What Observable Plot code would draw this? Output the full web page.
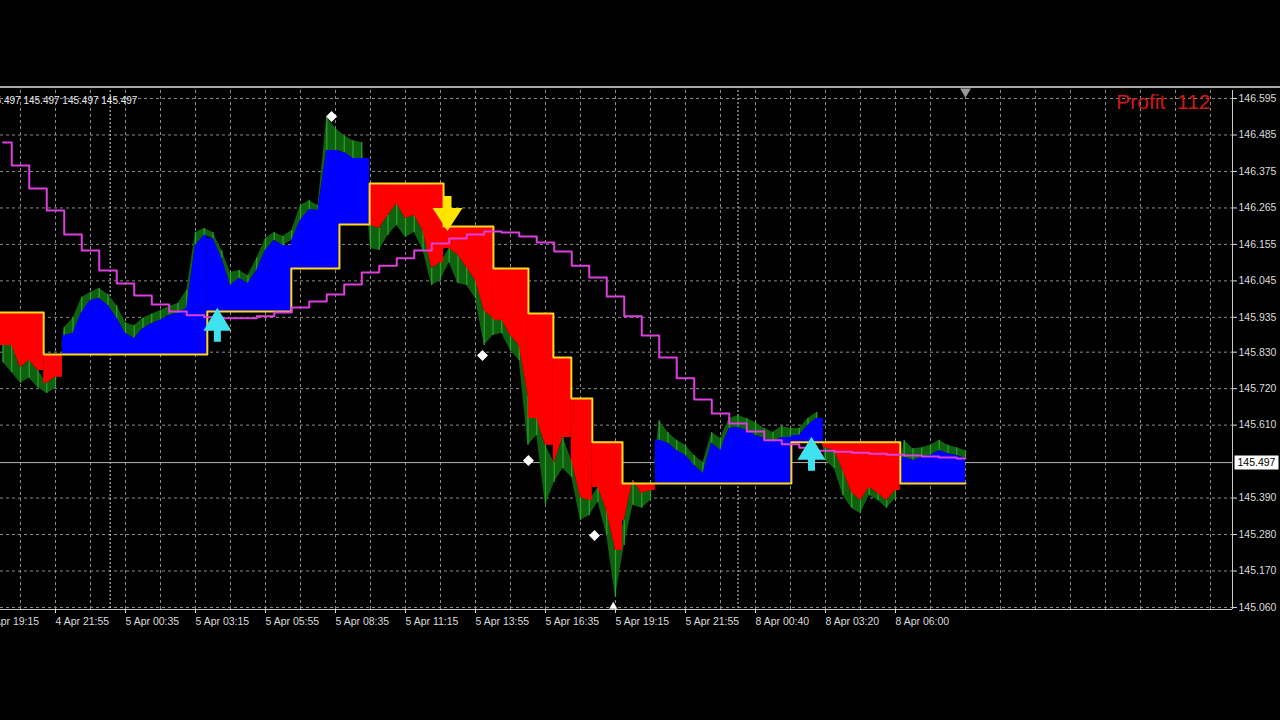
<!DOCTYPE html>
<html><head><meta charset="utf-8">
<script src="https://cdn.jsdelivr.net/npm/d3@7"></script>
<script src="https://cdn.jsdelivr.net/npm/@observablehq/plot@0.6"></script>
<style>
html,body{margin:0;padding:0;background:#000;width:1280px;height:720px;overflow:hidden;}
#wrap{position:relative;width:1280px;height:720px;background:#000;}
#topline{position:absolute;left:0;top:86px;width:1280px;height:2px;background:#a8a8a8;}
</style></head><body><div id="wrap"><div id="topline"></div></div>
<script>
// ---------- data ----------
const priceTicks = [146.595,146.485,146.375,146.265,146.155,146.045,145.935,145.830,145.720,145.610,145.390,145.280,145.170,145.060];
const bidPrice = 145.497;
const timeTicks = [-160,0,160,320,480,640,800,960,1120,1280,1440,1600,1760,1920];
const timeLabels = ["4 Apr 19:15","4 Apr 21:55","5 Apr 00:35","5 Apr 03:15","5 Apr 05:55","5 Apr 08:35","5 Apr 11:15","5 Apr 13:55","5 Apr 16:35","5 Apr 19:15","5 Apr 21:55","8 Apr 00:40","8 Apr 03:20","8 Apr 06:00"];
const daySeparators = [125, 1560];
const sampleStart = -120, sampleStep = 20;
const closePrice = [
145.850,145.850,145.784,145.805,145.775,145.736,145.754,145.880,145.886,145.950,
145.986,145.992,145.971,145.932,145.886,145.871,145.901,145.916,145.926,145.941,
145.947,145.962,146.152,146.182,146.173,146.113,146.031,146.052,146.037,146.076,
146.137,146.167,146.152,146.167,146.227,146.260,146.257,146.438,146.438,146.432,
146.414,146.414,146.212,146.203,146.242,146.278,146.233,146.242,146.197,146.082,
146.100,146.143,146.122,146.085,146.046,145.956,145.932,145.926,145.880,145.850,
145.699,145.630,145.549,145.497,145.573,145.503,145.392,145.383,145.422,145.352,
145.232,145.322,145.443,145.404,145.413,145.564,145.555,145.533,145.518,145.488,
145.464,145.555,145.533,145.600,145.603,145.594,145.579,145.570,145.558,145.573,
145.573,145.579,145.609,145.630,145.542,145.533,145.473,145.407,145.383,145.422,
145.404,145.383,145.413,145.512,145.503,145.512,145.518,145.533,145.524,145.518,
145.509];
const wickPrice = [
145.799,145.769,145.736,145.751,145.723,145.705,145.720,145.904,145.932,145.995,
146.010,146.022,146.004,145.971,145.919,145.910,145.932,145.944,145.956,145.968,
145.977,146.016,146.191,146.203,146.191,146.137,146.070,146.076,146.061,146.113,
146.173,146.191,146.179,146.197,146.272,146.287,146.272,146.538,146.505,146.483,
146.468,146.462,146.143,146.137,146.182,146.212,146.176,146.191,146.137,146.031,
146.046,146.100,146.037,146.031,145.992,145.850,145.880,145.886,145.835,145.805,
145.549,145.579,145.368,145.437,145.479,145.452,145.322,145.337,145.377,145.277,
145.090,145.247,145.368,145.359,145.383,145.624,145.588,145.564,145.549,145.518,
145.497,145.588,145.570,145.630,145.639,145.630,145.618,145.600,145.588,145.606,
145.600,145.600,145.630,145.648,145.503,145.479,145.398,145.359,145.343,145.398,
145.383,145.359,145.389,145.564,145.539,145.542,145.549,145.564,145.549,145.542,
145.533];
const maStart = -120, maStep = 40;
const maPrice = [
146.462,146.393,146.324,146.257,146.185,146.137,146.076,146.037,146.001,145.974,
145.953,145.941,145.935,145.932,145.932,145.938,145.950,145.965,145.983,146.004,
146.034,146.070,146.091,146.113,146.137,146.158,146.173,146.185,146.194,146.191,
146.179,146.161,146.134,146.091,146.055,145.998,145.938,145.880,145.814,145.751,
145.687,145.645,145.615,145.591,145.564,145.552,145.542,145.533,145.530,145.527,
145.524,145.521,145.518,145.515,145.512,145.509];
const segStart = [-130,-27,16,347,539,649,718,887,1001,1081,1138,1179,1227,1296,1371,1682,1755,1931];
const segLevel = [145.950,145.823,145.823,145.953,146.082,146.215,146.339,146.209,146.082,145.947,145.814,145.690,145.558,145.434,145.434,145.558,145.558,145.434];
const segTrend = ["down","down","up","up","up","up","down","down","down","down","down","down","down","down","up","up","down","up"];
const diamondT = [631, 976, 1081, 1232];
const diamondP = [146.541, 145.820, 145.503, 145.277];
const upArrowT = [370, 1728];
const upArrowP = [145.913, 145.524];
const downArrowT = [896];
const downArrowP = [146.248];
const profitText = "Profit  112";
const ohlcText = "145.497 145.497 145.497 145.497";

// ---------- build tables ----------
const xMin = -125.71, xMax = 2690.29;
const samples = closePrice.map((c, i) => ({t: sampleStart + i * sampleStep, close: c, wick: wickPrice[i]}));
const tEnd = samples[samples.length - 1].t;
const fillRows = [];
segStart.forEach((s0, s) => {
  const last = s === segStart.length - 1;
  const s1 = last ? tEnd : segStart[s + 1];
  const inside = samples.filter(d => (d.t >= s0 && d.t < s1) || (last && d.t === tEnd));
  if (!inside.length) return;
  const row = (t, c) => ({t, close: c, level: segLevel[s], trend: segTrend[s], seg: s});
  fillRows.push(row(s0, inside[0].close));
  inside.forEach(d => fillRows.push(row(d.t, d.close)));
  if (s1 > inside[inside.length - 1].t) fillRows.push(row(s1, inside[inside.length - 1].close));
});
const levelRows = segStart.map((t, s) => ({t, level: segLevel[s]}));
levelRows.push({t: tEnd, level: segLevel[segLevel.length - 1]});
const maRows = maPrice.map((p, i) => ({t: maStart + i * maStep, p}));
const gridTimes = d3.range(-80, 2650, 80);
const labelOf = new Map(timeTicks.map((t, i) => [t, timeLabels[i]]));
const diamonds = diamondT.map((t, i) => ({t, p: diamondP[i]}));
const ups = upArrowT.map((t, i) => ({t, p: upArrowP[i]}));
const downs = downArrowT.map((t, i) => ({t, p: downArrowP[i]}));

// ---------- custom symbols ----------
const sc = size => Math.sqrt(size / Math.PI) / 10;
const arrowUp = {draw(ctx, size) { const s = sc(size);
  ctx.moveTo(0, -17 * s); ctx.lineTo(14 * s, 6 * s); ctx.lineTo(3.5 * s, 6 * s); ctx.lineTo(3.5 * s, 17 * s);
  ctx.lineTo(-3.5 * s, 17 * s); ctx.lineTo(-3.5 * s, 6 * s); ctx.lineTo(-14 * s, 6 * s); ctx.closePath(); }};
const arrowDown = {draw(ctx, size) { const s = sc(size);
  ctx.moveTo(-4 * s, -17.5 * s); ctx.lineTo(4 * s, -17.5 * s); ctx.lineTo(4 * s, -5.5 * s); ctx.lineTo(15 * s, -5.5 * s);
  ctx.lineTo(0, 17.5 * s); ctx.lineTo(-15 * s, -5.5 * s); ctx.lineTo(-4 * s, -5.5 * s); ctx.closePath(); }};
const rhomb = {draw(ctx, size) { const r = Math.sqrt(size / Math.PI);
  ctx.moveTo(0, -r); ctx.lineTo(r, 0); ctx.lineTo(0, r); ctx.lineTo(-r, 0); ctx.closePath(); }};
const priceBox = {draw(ctx) { ctx.rect(0, -7, 44, 14); }};

const font = "'Liberation Sans', Arial, sans-serif";
const gridStyle = {stroke: "#8c8c8c", strokeDasharray: "3,3", strokeWidth: 1};

const chart = Plot.plot({
  width: 1280, height: 720,
  marginLeft: 0, marginRight: 48, marginTop: 90, marginBottom: 111,
  style: {background: "#000", color: "#dcdcdc", fontFamily: font, fontSize: "10.5px"},
  x: {domain: [xMin, xMax], label: null},
  y: {domain: [145.0539, 146.6192], label: null},
  marks: [
    Plot.ruleY(priceTicks, gridStyle),
    Plot.ruleX(gridTimes, gridStyle),
    Plot.ruleX(daySeparators, {stroke: "#d4d4d4", strokeDasharray: "2,2"}),
    Plot.ruleY([bidPrice], {stroke: "#b4b4b4"}),
    Plot.areaY(samples, {x: "t", y1: "close", y2: "wick", fill: "#0f600f"}),
    Plot.ruleX(samples, {x: "t", y1: "close", y2: "wick", stroke: "#2aa52a", strokeWidth: 1.2}),
    Plot.areaY(fillRows, {x: "t", y1: "level", y2: "close", z: "seg", fill: d => d.trend === "up" ? "#0000ff" : "#ff0000"}),
    Plot.line(levelRows, {x: "t", y: "level", stroke: "#ffd820", strokeWidth: 2, curve: "step-after"}),
    Plot.line(maRows, {x: "t", y: "p", stroke: "#dd3fdd", strokeWidth: 2, curve: "step"}),
    Plot.dot(diamonds, {x: "t", y: "p", symbol: rhomb, r: 5.5, fill: "#ffffff"}),
    Plot.dot(ups, {x: "t", y: "p", symbol: arrowUp, r: 10, fill: "#3fe3f0"}),
    Plot.dot(downs, {x: "t", y: "p", symbol: arrowDown, r: 10, fill: "#ffe400"}),
    Plot.dot([{t: 2080, p: 146.616}], {x: "t", y: "p", symbol: "triangle", rotate: 180, r: 4, fill: "#9a9a9a"}),
    Plot.dot([{t: 1275, p: 145.063}], {x: "t", y: "p", symbol: "triangle", r: 3, fill: "#ffffff"}),
    Plot.ruleX([xMax], {stroke: "#c8c8c8"}),
    Plot.ruleY([145.0539], {stroke: "#c8c8c8"}),
    Plot.axisY(priceTicks, {anchor: "right", tickSize: 4, tickPadding: 2, tickFormat: d => d.toFixed(3), label: null}),
    Plot.axisX(timeTicks, {anchor: "bottom", tickSize: 4, tickPadding: 4, tickFormat: d => labelOf.get(d), textAnchor: "start", label: null}),
    Plot.dot([{t: xMax, p: bidPrice}], {x: "t", y: "p", symbol: priceBox, fill: "#ffffff", dx: 2}),
    Plot.text([{t: xMax, p: bidPrice}], {x: "t", y: "p", text: d => d.p.toFixed(3), dx: 5, textAnchor: "start", fill: "#000000"}),
    Plot.text([profitText], {frameAnchor: "top-right", text: d => d, dx: -22, dy: 12, textAnchor: "end", lineAnchor: "middle", fill: "#d01818", fontSize: 21}),
    Plot.text([ohlcText], {frameAnchor: "top-left", text: d => d, dx: -16, dy: 10, textAnchor: "start", lineAnchor: "middle", fill: "#e8e8e8", fontSize: 10})
  ]
});
document.getElementById("wrap").prepend(chart);
</script>
</body></html>
